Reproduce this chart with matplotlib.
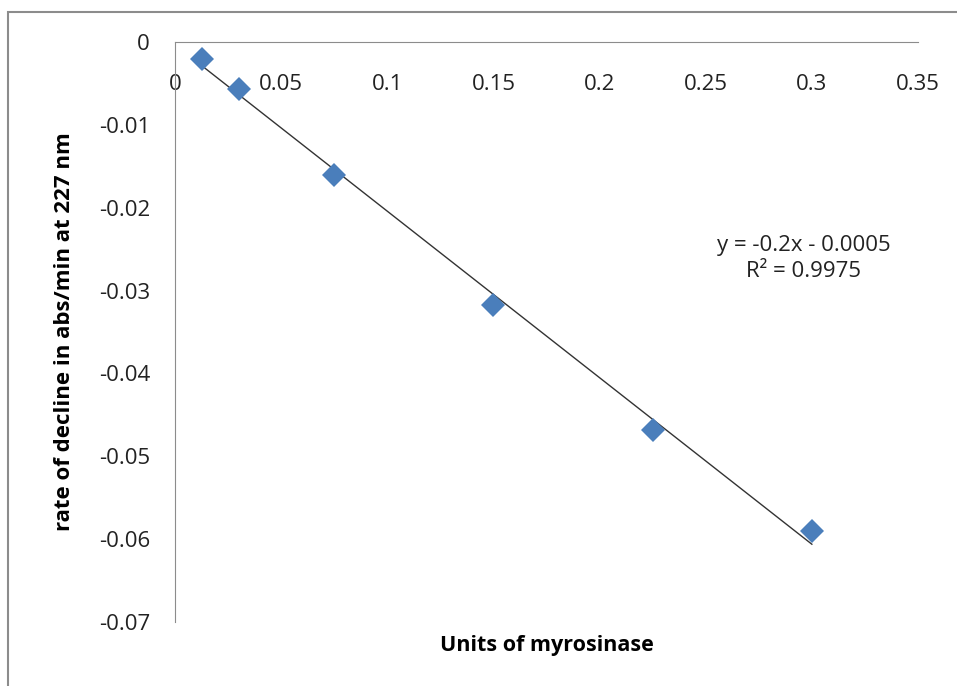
import numpy as np
import matplotlib.pyplot as plt
from matplotlib.patches import Rectangle

# data
units = [0.0125, 0.03, 0.075, 0.15, 0.225, 0.3]
rate = [-0.002, -0.0057, -0.016, -0.0317, -0.0468, -0.059]
x_ticks = [0, 0.05, 0.1, 0.15, 0.2, 0.25, 0.3, 0.35]
y_ticks = [0, -0.01, -0.02, -0.03, -0.04, -0.05, -0.06, -0.07]

plt.rcParams["font.family"] = ["Open Sans", "DejaVu Sans"]

fig = plt.figure(figsize=(9.57, 6.86), dpi=100)
ax = fig.add_axes([175 / 957, 1 - 622 / 686, (918 - 175) / 957, (622 - 42) / 686])

# outer chart frame (cut off at right and bottom like the screenshot)
fig.patches.append(Rectangle((8 / 957, -0.05), 1.2, 1 - 12 / 686 + 0.05,
                             transform=fig.transFigure, fill=False,
                             edgecolor="#8c8c8c", linewidth=1.5))

# linear trendline over the data range
slope, intercept = np.polyfit(units, rate, 1)
xs = np.array([min(units), max(units)])
ax.plot(xs, slope * xs + intercept, color="#333333", linewidth=1.0, zorder=2)

ax.plot(units, rate, linestyle="none", marker="D", markersize=12.5,
        color="#4a7ebb", markeredgewidth=0, zorder=3)

ax.set_xlim(0, 0.35)
ax.set_ylim(-0.07, 0)
ax.set_xticks(x_ticks)
ax.set_xticklabels(["0", "0.05", "0.1", "0.15", "0.2", "0.25", "0.3", "0.35"])
ax.set_yticks(y_ticks)
ax.set_yticklabels(["0", "-0.01", "-0.02", "-0.03", "-0.04", "-0.05", "-0.06", "-0.07"])

for side in ["right", "bottom"]:
    ax.spines[side].set_visible(False)
ax.spines["top"].set_color("#8c8c8c")
ax.spines["left"].set_color("#8c8c8c")
ax.xaxis.set_ticks_position("top")
ax.xaxis.set_label_position("bottom")
ax.tick_params(axis="x", length=0, labeltop=True, labelbottom=False,
               labelsize=16, colors="#222222", direction="in", pad=-38)
ax.tick_params(axis="y", length=0, labelsize=16, colors="#222222", pad=18)

ax.set_xlabel("Units of myrosinase", fontsize=15.5, fontweight="bold", labelpad=9)
ax.set_ylabel("rate of decline in abs/min at 227 nm", fontsize=16,
              fontweight="bold", labelpad=17)

ax.text(0.296, -0.0261, "y = -0.2x - 0.0005\nR² = 0.9975", fontsize=16,
        ha="center", va="center", linespacing=1.3, color="#222222")

plt.savefig("out.png", dpi=100)
